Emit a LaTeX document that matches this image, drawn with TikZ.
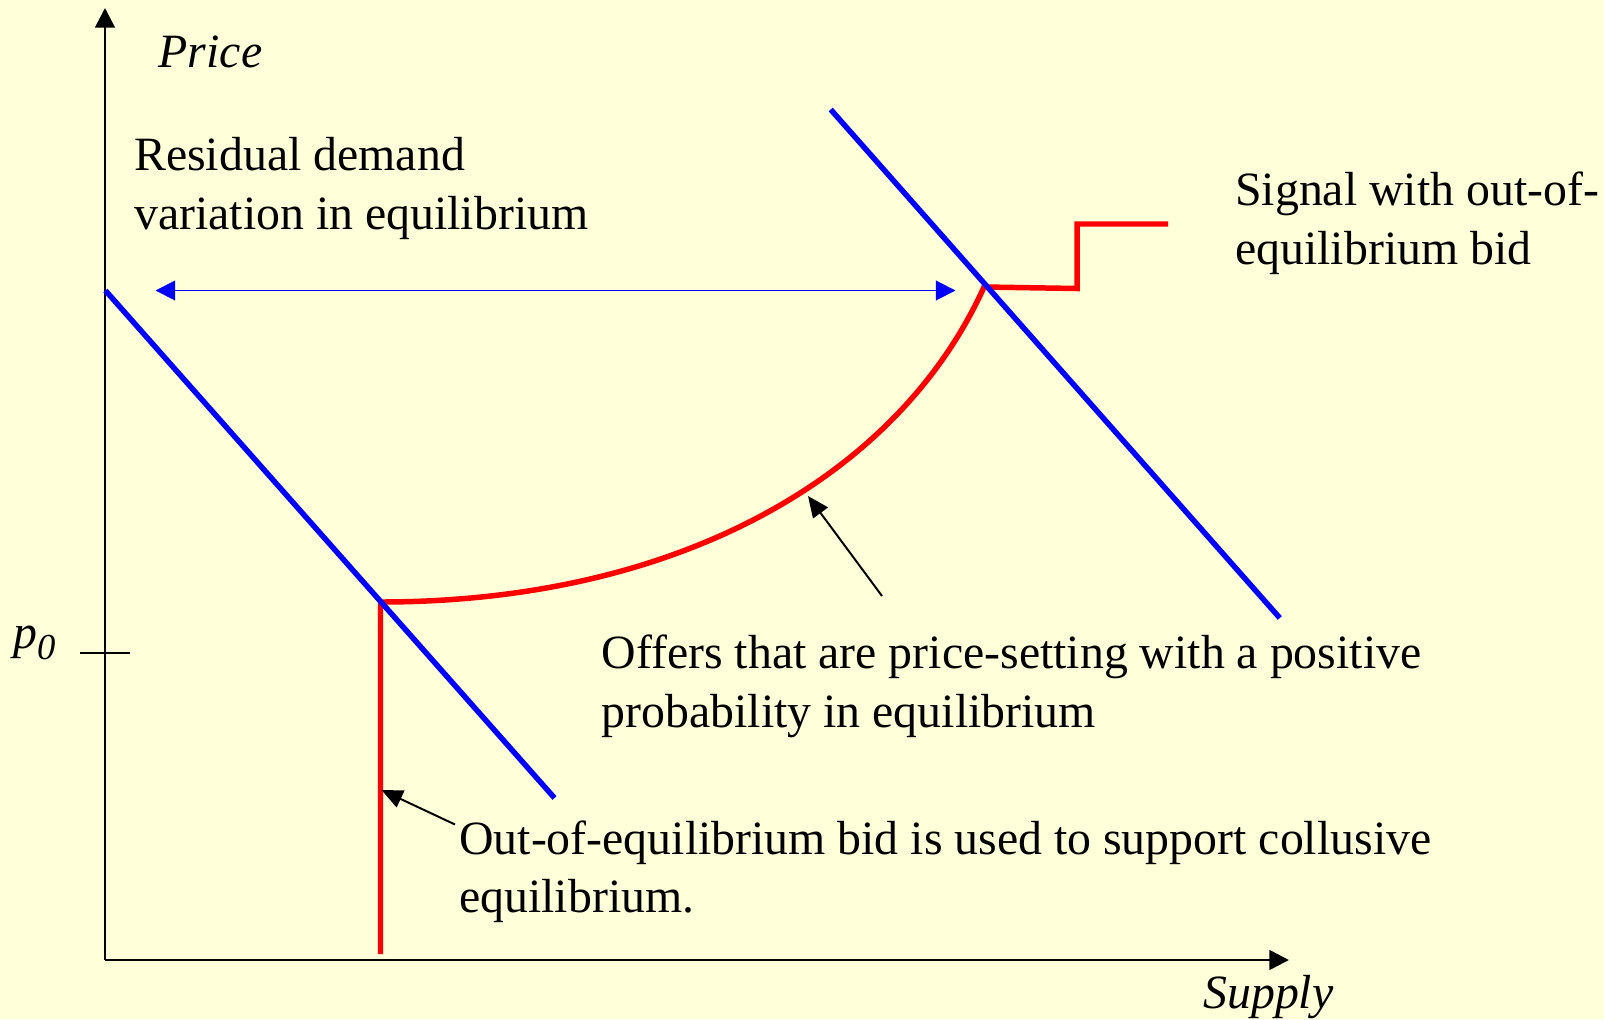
\documentclass[tikz,border=0pt]{standalone}
\usepackage{fontspec}
\setmainfont{Liberation Serif}
\usetikzlibrary{arrows.meta}
\definecolor{bg}{RGB}{255,255,217}
\begin{document}
\begin{tikzpicture}[x=0.025cm,y=-0.025cm,
  lbl/.style={inner sep=0, anchor=base west, align=left, font=\fontsize{34}{41.3}\selectfont},
  axis/.style={line width=1.9pt, -{Triangle[length=14pt,width=14pt]}},
  demand/.style={blue, line width=3.9pt},
  offer/.style={red, line width=3.9pt, line join=miter},
  pointer/.style={line width=1.4pt, -{Triangle[length=15pt,width=13pt]}},
  span/.style={blue, line width=1.4pt, {Triangle[length=14pt,width=14pt]}-{Triangle[length=14pt,width=14pt]}}]
\fill[bg] (0,0) rectangle (1604,1019);
\useasboundingbox (0,0) rectangle (1604,1019);
% axes
\coordinate (O) at (105,960);
\coordinate (ytop) at (105,8);
\coordinate (xend) at (1289,960);
\draw[axis] (O) -- (ytop);
\draw[axis] (O) -- (xend);
\coordinate (t1) at (80,653);
\coordinate (t2) at (130,653);
\draw[line width=1.4pt] (t1) -- (t2);
\node[lbl] (price) at (158.5,67.5) {\itshape Price};
\node[lbl] (supply) at (1203,1008) {\itshape Supply};
\node[lbl] (p0) at (13,648) {\itshape p\raisebox{-8.5pt}{\fontsize{26}{26}\selectfont 0}};
% offer curve (drawn below the demand lines)
\coordinate (bot) at (380.5,954);
\coordinate (lowint) at (380.5,602);
\coordinate (highint) at (984,287);
\coordinate (s1) at (1077,288.5);
\coordinate (s2) at (1077,224);
\coordinate (s3) at (1168,224);
\draw[offer] (bot) -- (lowint) .. controls (680,602) and (899,475) .. (highint) -- (s1) -- (s2) -- (s3);
% demand lines
\coordinate (d1a) at (105.4,290.5);
\coordinate (d1b) at (554.5,798);
\coordinate (d2a) at (830.7,109.5);
\coordinate (d2b) at (1279.8,618);
\draw[demand] (d1a) -- (d1b);
\draw[demand] (d2a) -- (d2b);
% variation arrow
\coordinate (va) at (155.5,290.5);
\coordinate (vb) at (955.5,290.5);
\draw[span] (va) -- (vb);
% labels (base = baseline of last line)
\node[lbl] (resid) at (134,229) {Residual demand\\variation in equilibrium};
\node[lbl] (signal) at (1235,264) {Signal with out-of-\\equilibrium bid};
\node[lbl] (offers) at (601.5,727) {Offers that are price-setting with a positive\\probability in equilibrium};
\node[lbl] (outof) at (459,912.5) {Out-of-equilibrium bid is used to support collusive\\equilibrium.};
% pointers
\coordinate (p1s) at (882,596);
\coordinate (p1e) at (808,496);
\coordinate (p2s) at (455,824.5);
\coordinate (p2e) at (381.5,790);
\draw[pointer] (p1s) -- (p1e);
\draw[pointer] (p2s) -- (p2e);
\end{tikzpicture}
\end{document}
